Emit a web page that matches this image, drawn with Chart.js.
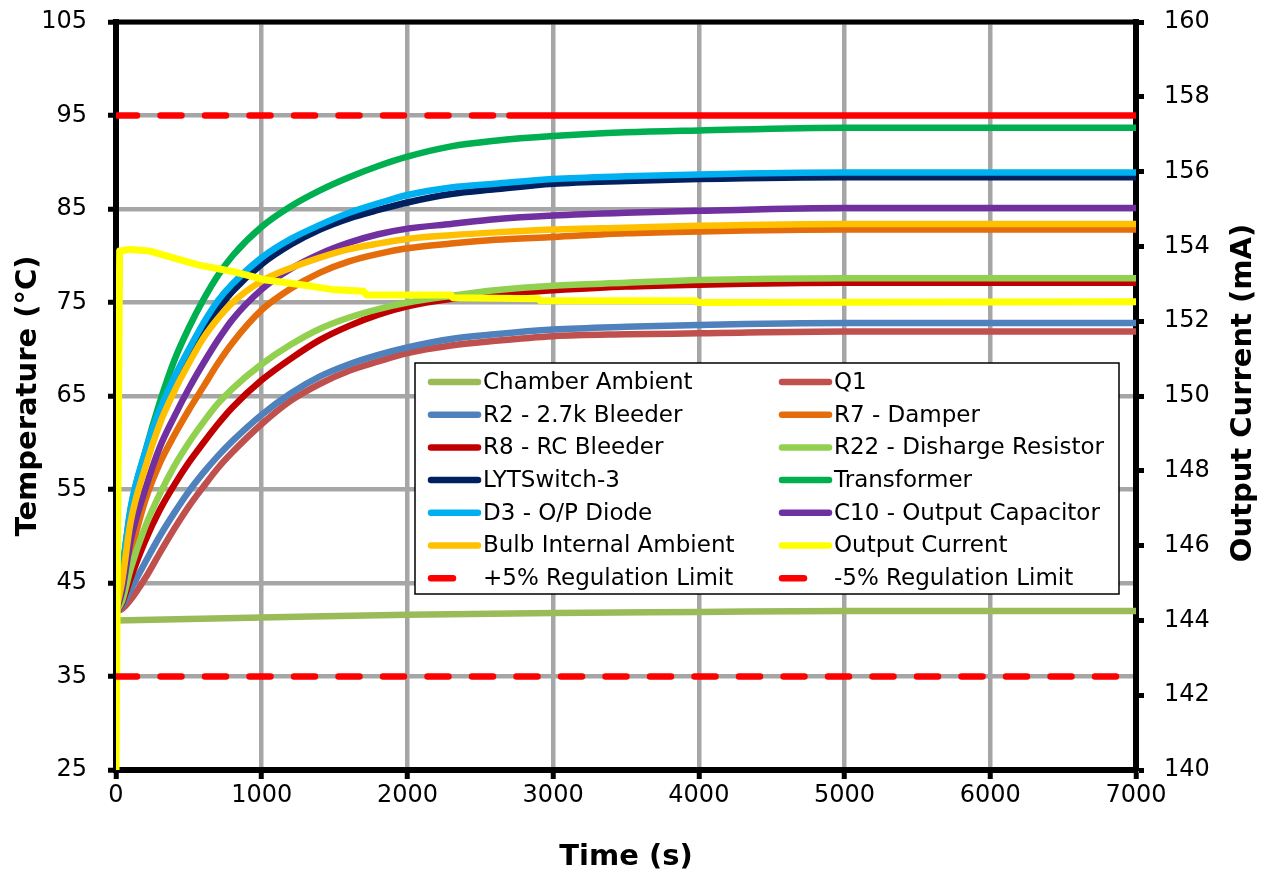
<!DOCTYPE html>
<html><head><meta charset="utf-8">
<script src="https://cdn.jsdelivr.net/npm/chart.js@4.4.0/dist/chart.umd.min.js"></script>
<style>html,body{margin:0;padding:0;background:#fff;}#wrap{width:1265px;height:873px;position:relative;}</style>
</head><body><div id="wrap"><canvas id="c" width="1265" height="873"></canvas></div>
<script>
// ---- data ----
const TIME = [0,40,100,200,300,400,500,600,700,800,1000,1200,1400,1600,1800,2000,2300,2600,3000,3500,4000,5000,6000,7000];
const AMBIENT_TIME = [0,1000,2000,3000,4000,5000,6000,7000];
const chamberAmbient = [41.0,41.3,41.6,41.8,41.9,42.0,42.0,42.0];
const q1          = [42,42.2,43.2,45.5,48.2,50.8,53.2,55.3,57.3,59.0,62.0,64.5,66.3,67.7,68.7,69.6,70.4,70.9,71.4,71.6,71.7,71.9,71.9,71.9];
const r2          = [42,42.5,44.3,47.2,50.0,52.5,54.8,56.8,58.6,60.2,63.0,65.3,67.1,68.4,69.4,70.2,71.1,71.6,72.1,72.4,72.6,72.8,72.8,72.8];
const r7          = [42,43.5,48.0,53.8,57.8,60.8,63.5,66.0,68.5,70.7,74.2,76.5,78.2,79.4,80.2,80.8,81.3,81.7,82.0,82.4,82.6,82.8,82.8,82.8];
const r8          = [42,42.8,45.5,49.5,52.8,55.5,57.9,60.0,62.0,63.8,66.7,69.0,71.0,72.5,73.7,74.6,75.4,75.9,76.3,76.7,76.9,77.1,77.1,77.1];
const r22         = [42,43.0,46.5,51.0,54.5,57.5,60.0,62.2,64.2,65.8,68.4,70.5,72.2,73.4,74.3,75.0,75.7,76.3,76.8,77.1,77.4,77.6,77.6,77.6];
const lytSwitch   = [42,45.5,52.5,58.5,63.0,66.5,69.5,72.0,74.3,76.2,79.1,81.2,82.8,84.0,84.9,85.7,86.6,87.1,87.7,88.0,88.2,88.4,88.4,88.4];
const transformer = [42,46.0,52.8,59.0,64.3,68.8,72.3,75.3,77.9,80.0,83.1,85.3,87.0,88.4,89.6,90.6,91.7,92.3,92.8,93.2,93.4,93.7,93.7,93.7];
const d3Diode     = [42,46.0,53.0,59.0,63.5,67.0,70.0,72.8,75.2,77.0,79.8,81.8,83.3,84.6,85.6,86.5,87.3,87.7,88.2,88.5,88.7,88.9,88.9,88.9];
const c10Cap      = [42,44.0,49.5,55.0,59.5,62.8,65.8,68.5,71.0,73.2,76.4,78.6,80.2,81.4,82.3,82.9,83.4,83.9,84.3,84.6,84.8,85.1,85.1,85.1];
const bulbAmbient = [42,45.0,51.5,57.3,62.0,65.5,68.5,71.2,73.3,75.0,77.3,78.7,79.8,80.7,81.3,81.8,82.2,82.5,82.8,83.0,83.2,83.4,83.4,83.4];
const CURRENT_TIME = [0,25,100,230,280,570,800,1030,1260,1480,1700,1720,2300,2310,2900,2910,3980,3990,7000];
const outputCurrent = [140,153.88,153.92,153.88,153.82,153.5,153.33,153.1,152.98,152.85,152.8,152.7,152.7,152.63,152.6,152.55,152.55,152.5,152.52];
const LIMIT_TIME = [0,2700,7000];
const upperLimit = [157.5,157.5,157.5];
const lowerLimit = [142.5,142.5,142.5];
const TEMP_TICKS = [25,35,45,55,65,75,85,95,105];
const CURRENT_TICKS = [140,142,144,146,148,150,152,154,156,158,160];
const TIME_TICKS = [0,1000,2000,3000,4000,5000,6000,7000];
const LABELS = ['Chamber Ambient','Q1','R2 - 2.7k Bleeder','R7 - Damper','R8 - RC Bleeder','R22 - Disharge Resistor','LYTSwitch-3','Transformer','D3 - O/P Diode','C10 - Output Capacitor','Bulb Internal Ambient','Output Current','+5% Regulation Limit','-5% Regulation Limit'];
const COLORS = ['#9BBB59','#C0504D','#4F81BD','#E46C0A','#C00000','#92D050','#002060','#00B050','#00B0F0','#7030A0','#FFC000','#FFFF00','#FF0000','#FF0000'];

// ---- build ----
const pts = (xs, ys) => xs.map((x, i) => ({x, y: ys[i]}));
const tempSeries = [[AMBIENT_TIME, chamberAmbient],[TIME,q1],[TIME,r2],[TIME,r7],[TIME,r8],[TIME,r22],[TIME,lytSwitch],[TIME,transformer],[TIME,d3Diode],[TIME,c10Cap],[TIME,bulbAmbient]];
const N = 14;
const datasets = tempSeries.map((s, i) => ({
  label: LABELS[i], data: pts(s[0], s[1]), yAxisID: 'y',
  borderColor: COLORS[i], borderWidth: 6.5, pointRadius: 0, fill: false,
  cubicInterpolationMode: 'monotone', borderCapStyle: 'round', borderJoinStyle: 'round', order: N - i
}));
datasets.push({label: LABELS[11], data: pts(CURRENT_TIME, outputCurrent), yAxisID: 'y1',
  borderColor: COLORS[11], borderWidth: 7, pointRadius: 0, tension: 0, borderJoinStyle: 'round', borderCapStyle: 'round', order: N - 11});
datasets.push({label: LABELS[12], data: pts(LIMIT_TIME, upperLimit), yAxisID: 'y1',
  borderColor: COLORS[12], borderWidth: 6.5, pointRadius: 0, borderCapStyle: 'round', borderDash: [],
  segment: {borderDash: c => c.p0.parsed.x < 2700 ? [21, 23.5] : []}, order: N - 12});
datasets.push({label: LABELS[13], data: pts(LIMIT_TIME, lowerLimit), yAxisID: 'y1',
  borderColor: COLORS[13], borderWidth: 6.5, pointRadius: 0, borderCapStyle: 'round', borderDash: [21, 23.5], order: N - 13});

const FONT = 'DejaVu Sans';
const plain = v => String(v);
const fitV = w => s => { s.width = w; s.paddingTop = 0; s.paddingBottom = 0; };
const topFrame = {
  id: 'topFrame',
  afterDatasetsDraw(chart) {
    const {ctx, chartArea: a} = chart;
    ctx.save(); ctx.strokeStyle = '#000'; ctx.lineWidth = 5;
    ctx.beginPath(); ctx.moveTo(a.left - 3, a.top); ctx.lineTo(a.right + 3, a.top); ctx.stroke();
    ctx.restore();
  }
};
const rightTitle = {
  id: 'rightTitle',
  afterDraw(chart) {
    const {ctx, chartArea: a} = chart;
    ctx.save(); ctx.translate(1243, (a.top + a.bottom) / 2 - 3); ctx.rotate(-Math.PI / 2);
    ctx.font = 'bold 29px "' + FONT + '"'; ctx.fillStyle = '#000';
    ctx.textAlign = 'center'; ctx.textBaseline = 'middle';
    ctx.fillText('Output Current (mA)', 0, 0); ctx.restore();
  }
};
const boxLegend = {
  id: 'boxLegend',
  afterDraw(chart) {
    const ctx = chart.ctx;
    ctx.save();
    ctx.fillStyle = '#fff'; ctx.fillRect(415, 363, 704, 231);
    ctx.strokeStyle = '#000'; ctx.lineWidth = 1.5; ctx.strokeRect(415, 363, 704, 231);
    ctx.font = '23px "' + FONT + '"'; ctx.textBaseline = 'middle'; ctx.textAlign = 'left';
    chart.data.datasets.forEach((ds, i) => {
      const row = Math.floor(i / 2), col = i % 2;
      const x0 = col === 0 ? 431 : 782;
      const y = 382 + row * 32.7;
      ctx.strokeStyle = ds.borderColor; ctx.lineWidth = 6.5; ctx.lineCap = 'round';
      ctx.beginPath();
      if (i >= 12) { ctx.moveTo(x0, y); ctx.lineTo(x0 + 22, y); }
      else { ctx.moveTo(x0, y); ctx.lineTo(x0 + 47, y); }
      ctx.stroke();
      ctx.fillStyle = '#000';
      ctx.fillText(ds.label, x0 + 52, y + 1);
    });
    ctx.restore();
  }
};

new Chart(document.getElementById('c'), {
  type: 'line',
  data: {datasets},
  options: {
    responsive: false, animation: false, devicePixelRatio: 1,
    layout: {padding: {top: 22, left: 0, right: 0, bottom: 0}, autoPadding: false},
    plugins: {legend: {display: false}, tooltip: {enabled: false}},
    scales: {
      x: {type: 'linear', min: 0, max: 7000,
        afterBuildTicks: s => { s.ticks = TIME_TICKS.map(v => ({value: v})); },
        afterFit: s => { s.height = 103; s.paddingLeft = 0; s.paddingRight = 0; },
        grid: {color: '#A6A6A6', lineWidth: 4.5, tickColor: '#000', tickWidth: 5, tickLength: 9},
        border: {color: '#000', width: 6},
        ticks: {color: '#000', font: {family: FONT, size: 24}, padding: 2, maxRotation: 0, callback: plain},
        title: {display: true, text: 'Time (s)', color: '#000', font: {family: FONT, size: 29, weight: 'bold'}, padding: {top: 0, bottom: -2}}
      },
      y: {type: 'linear', position: 'left', min: 25, max: 105,
        afterBuildTicks: s => { s.ticks = TEMP_TICKS.map(v => ({value: v})); },
        afterFit: fitV(116),
        grid: {color: '#A6A6A6', lineWidth: 4.5, tickColor: '#000', tickWidth: 5, tickLength: 8},
        border: {color: '#000', width: 6},
        ticks: {color: '#000', font: {family: FONT, size: 24}, padding: 21, callback: plain},
        title: {display: true, text: 'Temperature (°C)', color: '#000', font: {family: FONT, size: 29, weight: 'bold'}, padding: {top: 11, bottom: 0}}
      },
      y1: {type: 'linear', position: 'right', min: 140, max: 160,
        afterBuildTicks: s => { s.ticks = CURRENT_TICKS.map(v => ({value: v})); },
        afterFit: fitV(129),
        grid: {drawOnChartArea: false, tickColor: '#000', tickWidth: 5, tickLength: 8},
        border: {color: '#000', width: 6},
        ticks: {color: '#000', font: {family: FONT, size: 24}, padding: 20, callback: plain}
      }
    }
  },
  plugins: [topFrame, rightTitle, boxLegend]
});
</script></body></html>
